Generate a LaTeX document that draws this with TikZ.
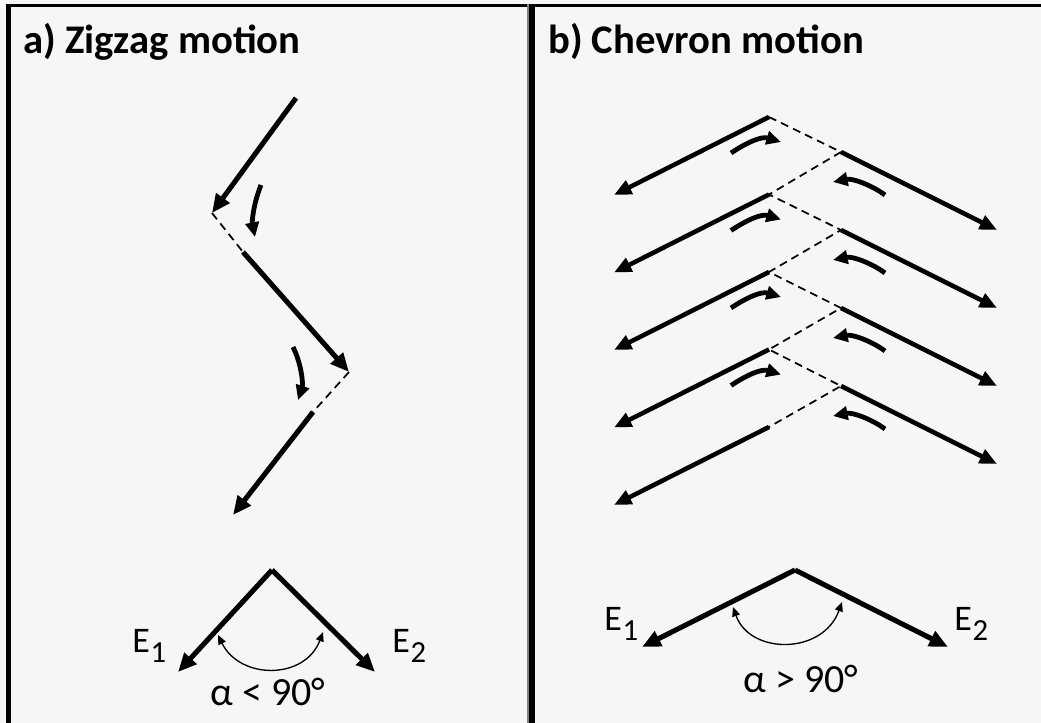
\documentclass[tikz,border=0pt]{standalone}
\usepackage{fontspec}
\setmainfont{Carlito}
\usetikzlibrary{arrows.meta,calc}
\definecolor{paper}{rgb}{0.965,0.965,0.965}
\newcommand\Esub[1]{E\kern0.6pt\raisebox{-7.5pt}{\fontsize{23}{23}\selectfont #1}}
\begin{document}
\begin{tikzpicture}[x=0.75pt,y=-0.75pt,
  arm/.style={line width=3.4pt,-{Triangle[length=13pt,width=11pt]}},
  bigarm/.style={line width=3.8pt,-{Triangle[length=14pt,width=12pt]}},
  curly/.style={line width=3.6pt,-{Triangle[length=11pt,width=10pt]}},
  dashline/.style={line width=1.3pt,dash pattern=on 6pt off 4pt},
  anglearc/.style={line width=1pt,{Triangle[length=7pt,width=6pt]}-{Triangle[length=7pt,width=6pt]}},
  title/.style={font=\bfseries\fontsize{30.5}{34}\selectfont,anchor=base west,inner sep=0pt},
  lab/.style={font=\fontsize{27}{30}\selectfont,inner sep=0pt,anchor=base west},
  alab/.style={font=\fontsize{30}{34}\selectfont,anchor=base,inner sep=0pt}]
\useasboundingbox (0,0) rectangle (1041,723);
\fill[paper] (0,0) rectangle (1041,723);
% frame
\draw[line width=2.8pt] (6,5.5) -- (1041,5.5);
\draw[line width=3.8pt] (8.5,4) -- (8.5,723);
\draw[line width=1.5pt,gray] (528,4) -- (528,723);
\draw[line width=4.5pt] (532,4) -- (532,723);
% titles
\node[title] (ta) at (23,54) {a) Zigzag motion};
\node[title] (tb) at (548,54) {b) Chevron motion};
% ---- zigzag
\coordinate (z0) at (296,98);
\coordinate (z1) at (212,213);
\coordinate (z2) at (243,252);
\coordinate (z3) at (349,372);
\coordinate (z4) at (313,412);
\coordinate (z5) at (233,515);
\draw[bigarm] (z0) -- (z1);
\draw[dashline] (z1) -- (z2);
\draw[bigarm] (z2) -- (z3);
\draw[dashline] (z3) -- (z4);
\draw[bigarm] (z4) -- (z5);
\coordinate (ca0) at (261,185);
\coordinate (ca1) at (255,237);
\draw[curly] (ca0) .. controls (253,205) and (252,222) .. (ca1);
\coordinate (cb0) at (293,347);
\coordinate (cb1) at (298,400);
\draw[curly] (cb0) .. controls (302,365) and (303,385) .. (cb1);
% angle a
\coordinate (aa) at (272,570);
\coordinate (a1) at (178,672);
\coordinate (a2) at (375,672);
\draw[bigarm] (aa) -- (a1);
\draw[bigarm] (aa) -- (a2);
\coordinate (aL) at (218,635);
\coordinate (aR) at (323,632);
\draw[anglearc] (aL) .. controls (240,680) and (305,680) .. (aR);
\node[lab] (e1a) at (132,652) {\Esub{1}};
\node[lab] (e2a) at (392,652) {\Esub{2}};
\node[alab] (alpha1) at (268,705) {α < 90°};
% ---- chevrons
\foreach \i in {0,...,4}{
  \pgfmathsetmacro{\ly}{117+77.5*\i}
  \coordinate (L\i) at (769,\ly);
  \coordinate (LT\i) at (614,\ly+78);
  \draw[arm] (L\i) -- (LT\i);
}
\foreach \i in {0,...,3}{
  \pgfmathsetmacro{\ry}{152+78*\i}
  \coordinate (R\i) at (841,\ry);
  \coordinate (RT\i) at (997,\ry+78);
  \draw[arm] (R\i) -- (RT\i);
  \draw[curly] ($(L\i)+(-38,36)$) .. controls ($(L\i)+(-23,26)$) and ($(L\i)+(-8,19)$) .. ($(L\i)+(12,25)$);
  \draw[curly] ($(R\i)+(44,43)$) .. controls ($(R\i)+(32,34)$) and ($(R\i)+(12,26)$) .. ($(R\i)+(-8,30)$);
}
\draw[dashline] (L0) -- (R0) -- (L1) -- (R1) -- (L2) -- (R2) -- (L3) -- (R3) -- (L4);
% angle b
\coordinate (ba) at (795,570);
\coordinate (b1) at (642,647);
\coordinate (b2) at (948,647);
\draw[bigarm] (ba) -- (b1);
\draw[bigarm] (ba) -- (b2);
\coordinate (bL) at (733,607);
\coordinate (bR) at (842,602);
\draw[anglearc] (bL) .. controls (750,655) and (823,655) .. (bR);
\node[lab] (e1b) at (604,630) {\Esub{1}};
\node[lab] (e2b) at (954,630) {\Esub{2}};
\node[alab] (alpha2) at (801,692) {α > 90°};
\end{tikzpicture}
\end{document}
